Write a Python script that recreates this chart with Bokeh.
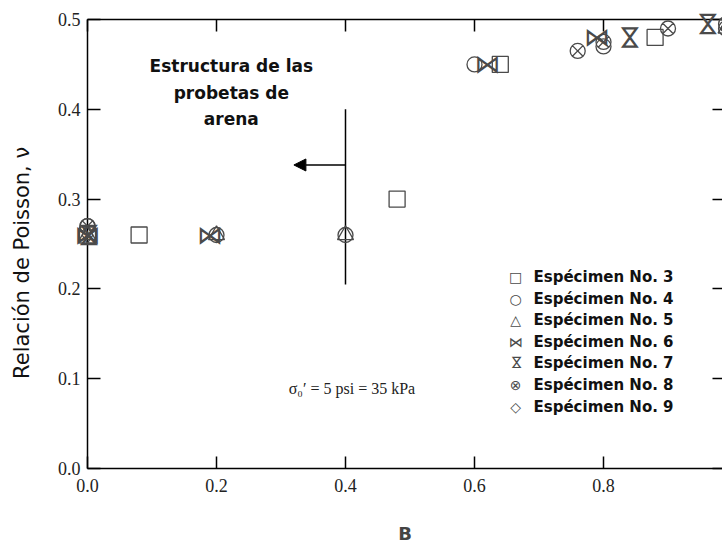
import numpy as np
from bokeh.plotting import figure
from bokeh.models import (Range1d, LinearAxis, Label, Arrow, NormalHead,
                          FixedTicker, PrintfTickFormatter)
from bokeh.core.properties import value
from bokeh.embed import file_html
from bokeh.resources import INLINE

# Pore-pressure parameter B and Poisson's ratio for each specimen
b3 = [0.0, 0.08, 0.48, 0.64, 0.88]
nu3 = [0.26, 0.26, 0.30, 0.45, 0.48]
b4 = [0.0, 0.20, 0.40, 0.60, 0.80, 0.99]
nu4 = [0.27, 0.26, 0.26, 0.45, 0.47, 0.49]
b5 = [0.0, 0.20, 0.40, 0.99]
nu5 = [0.26, 0.26, 0.26, 0.49]
b6 = [0.0, 0.19, 0.62, 0.79]
nu6 = [0.26, 0.26, 0.45, 0.48]
b7 = [0.0, 0.84, 0.96]
nu7 = [0.26, 0.48, 0.495]
b8 = [0.0, 0.76, 0.80, 0.90, 0.99]
nu8 = [0.27, 0.465, 0.475, 0.49, 0.495]
b9 = [0.0, 0.99]
nu9 = [0.26, 0.49]

legend_labels = ["Espécimen No. 3", "Espécimen No. 4", "Espécimen No. 5",
                 "Espécimen No. 6", "Espécimen No. 7", "Espécimen No. 8",
                 "Espécimen No. 9"]
legend_symbols = ["□", "○", "△", "⋈", "⋈", "⊗", "◇"]

x_ticks = [0.0, 0.2, 0.4, 0.6, 0.8, 1.0]
y_ticks = [0.0, 0.1, 0.2, 0.3, 0.4, 0.5]

SANS = "DejaVu Sans"
SERIF = "Liberation Serif"
MARK = "#4a4a4a"

p = figure(width=722, height=546, x_range=Range1d(0, 0.9845),
           y_range=Range1d(0, 0.5), output_backend="svg",
           toolbar_location=None, min_border_left=87, min_border_right=0,
           min_border_top=19, min_border_bottom=78,
           outline_line_color=None, background_fill_color="white",
           border_fill_color="white")
p.grid.visible = False


def style_axis(ax, ticks, tick_in):
    ax.ticker = FixedTicker(ticks=ticks)
    ax.minor_tick_line_color = None
    ax.major_tick_in = tick_in
    ax.major_tick_out = 0
    ax.major_tick_line_width = 1.5
    ax.major_tick_line_color = "black"
    ax.axis_line_width = 1.5
    ax.axis_line_color = "black"


xa = p.xaxis[0]
style_axis(xa, x_ticks, 12)
xa.formatter = PrintfTickFormatter(format="%.1f")
xa.major_label_text_font = SERIF
xa.major_label_text_font_size = "18px"
xa.major_label_text_color = "#222222"
xa.major_label_standoff = 10
xa.axis_label = "B"
xa.axis_label_text_font = SANS
xa.axis_label_text_font_size = "18px"
xa.axis_label_text_font_style = "bold"
xa.axis_label_standoff = 28

ya = p.yaxis[0]
style_axis(ya, y_ticks, 13)
ya.formatter = PrintfTickFormatter(format="%.1f")
ya.major_label_text_font = SERIF
ya.major_label_text_font_size = "18px"
ya.major_label_text_color = "#222222"
ya.major_label_standoff = 7

# frame edges on top and right: ticks only, no tick labels
top = LinearAxis(major_label_text_font_size="0px", major_label_standoff=0,
                 major_label_text_color=None)
style_axis(top, x_ticks, 12)
p.add_layout(top, "above")

right = LinearAxis(major_label_text_font_size="0px", major_label_standoff=0,
                   major_label_text_color=None)
style_axis(right, y_ticks, 10)
right.axis_line_color = None
p.add_layout(right, "right")

# y-axis title, set a little below the frame centre
p.text(x=[-0.1023], y=[0.229], text=["Relación de Poisson, ν"],
       angle=np.pi / 2, text_align="center", text_baseline="middle",
       text_font=value(SANS), text_font_size=value("21px"),
       text_color="#111111", level="overlay")

# specimen markers
common = dict(fill_color=None, line_color=MARK, line_width=1.3, level="overlay")
p.scatter(b3, nu3, marker="square", size=16, **common)
p.scatter(b4, nu4, marker="circle", size=15, **common)
p.scatter(b5, nu5, marker="triangle", size=16, **common)
p.text(b6, nu6, text=["⋈"] * len(b6), text_font=value(SANS),
       text_font_size=value("26px"), text_align="center",
       text_baseline="middle", text_color=MARK, level="overlay")
p.text(b7, nu7, text=["⋈"] * len(b7), angle=np.pi / 2, text_font=value(SANS),
       text_font_size=value("26px"), text_align="center",
       text_baseline="middle", text_color=MARK, level="overlay")
p.scatter(b8, nu8, marker="circle_x", size=15, **common)
p.scatter(b9, nu9, marker="diamond", size=16, **common)

# structure boundary and arrow
p.segment(x0=[0.4], y0=[0.205], x1=[0.4], y1=[0.4], line_color="black",
          line_width=1.5)
p.add_layout(Arrow(end=NormalHead(size=12, fill_color="black",
                                  line_color="black"),
                   x_start=0.4, y_start=0.338, x_end=0.32, y_end=0.338,
                   line_width=1.5, line_color="black"))

for txt, yy in zip(["Estructura de las", "probetas de", "arena"],
                   [0.448, 0.418, 0.389]):
    p.add_layout(Label(x=0.223, y=yy, text=txt, text_align="center",
                       text_baseline="middle", text_font=SANS,
                       text_font_size="17px", text_font_style="bold",
                       text_color="#111111"))

p.add_layout(Label(x=0.312, y=0.089, text="σ₀′ = 5 psi = 35 kPa",
                   text_align="left", text_baseline="middle",
                   text_font=SERIF, text_font_size="16px",
                   text_color="#222222"))

# legend
rows = [0.2133, 0.1889, 0.1656, 0.1411, 0.1178, 0.0933, 0.0689]
for i, (sym, lab, yy) in enumerate(zip(legend_symbols, legend_labels, rows)):
    p.add_layout(Label(x=0.6636, y=yy, text=sym, text_align="center",
                       text_baseline="middle", text_font=SANS,
                       text_font_size="14px", text_color=MARK,
                       angle=(np.pi / 2 if i == 4 else 0)))
    p.add_layout(Label(x=0.6915, y=yy, text=lab, text_align="left",
                       text_baseline="middle", text_font=SANS,
                       text_font_size="15px", text_font_style="bold",
                       text_color="#111111"))

open("out.html", "w", encoding="utf-8").write(file_html(p, INLINE))
